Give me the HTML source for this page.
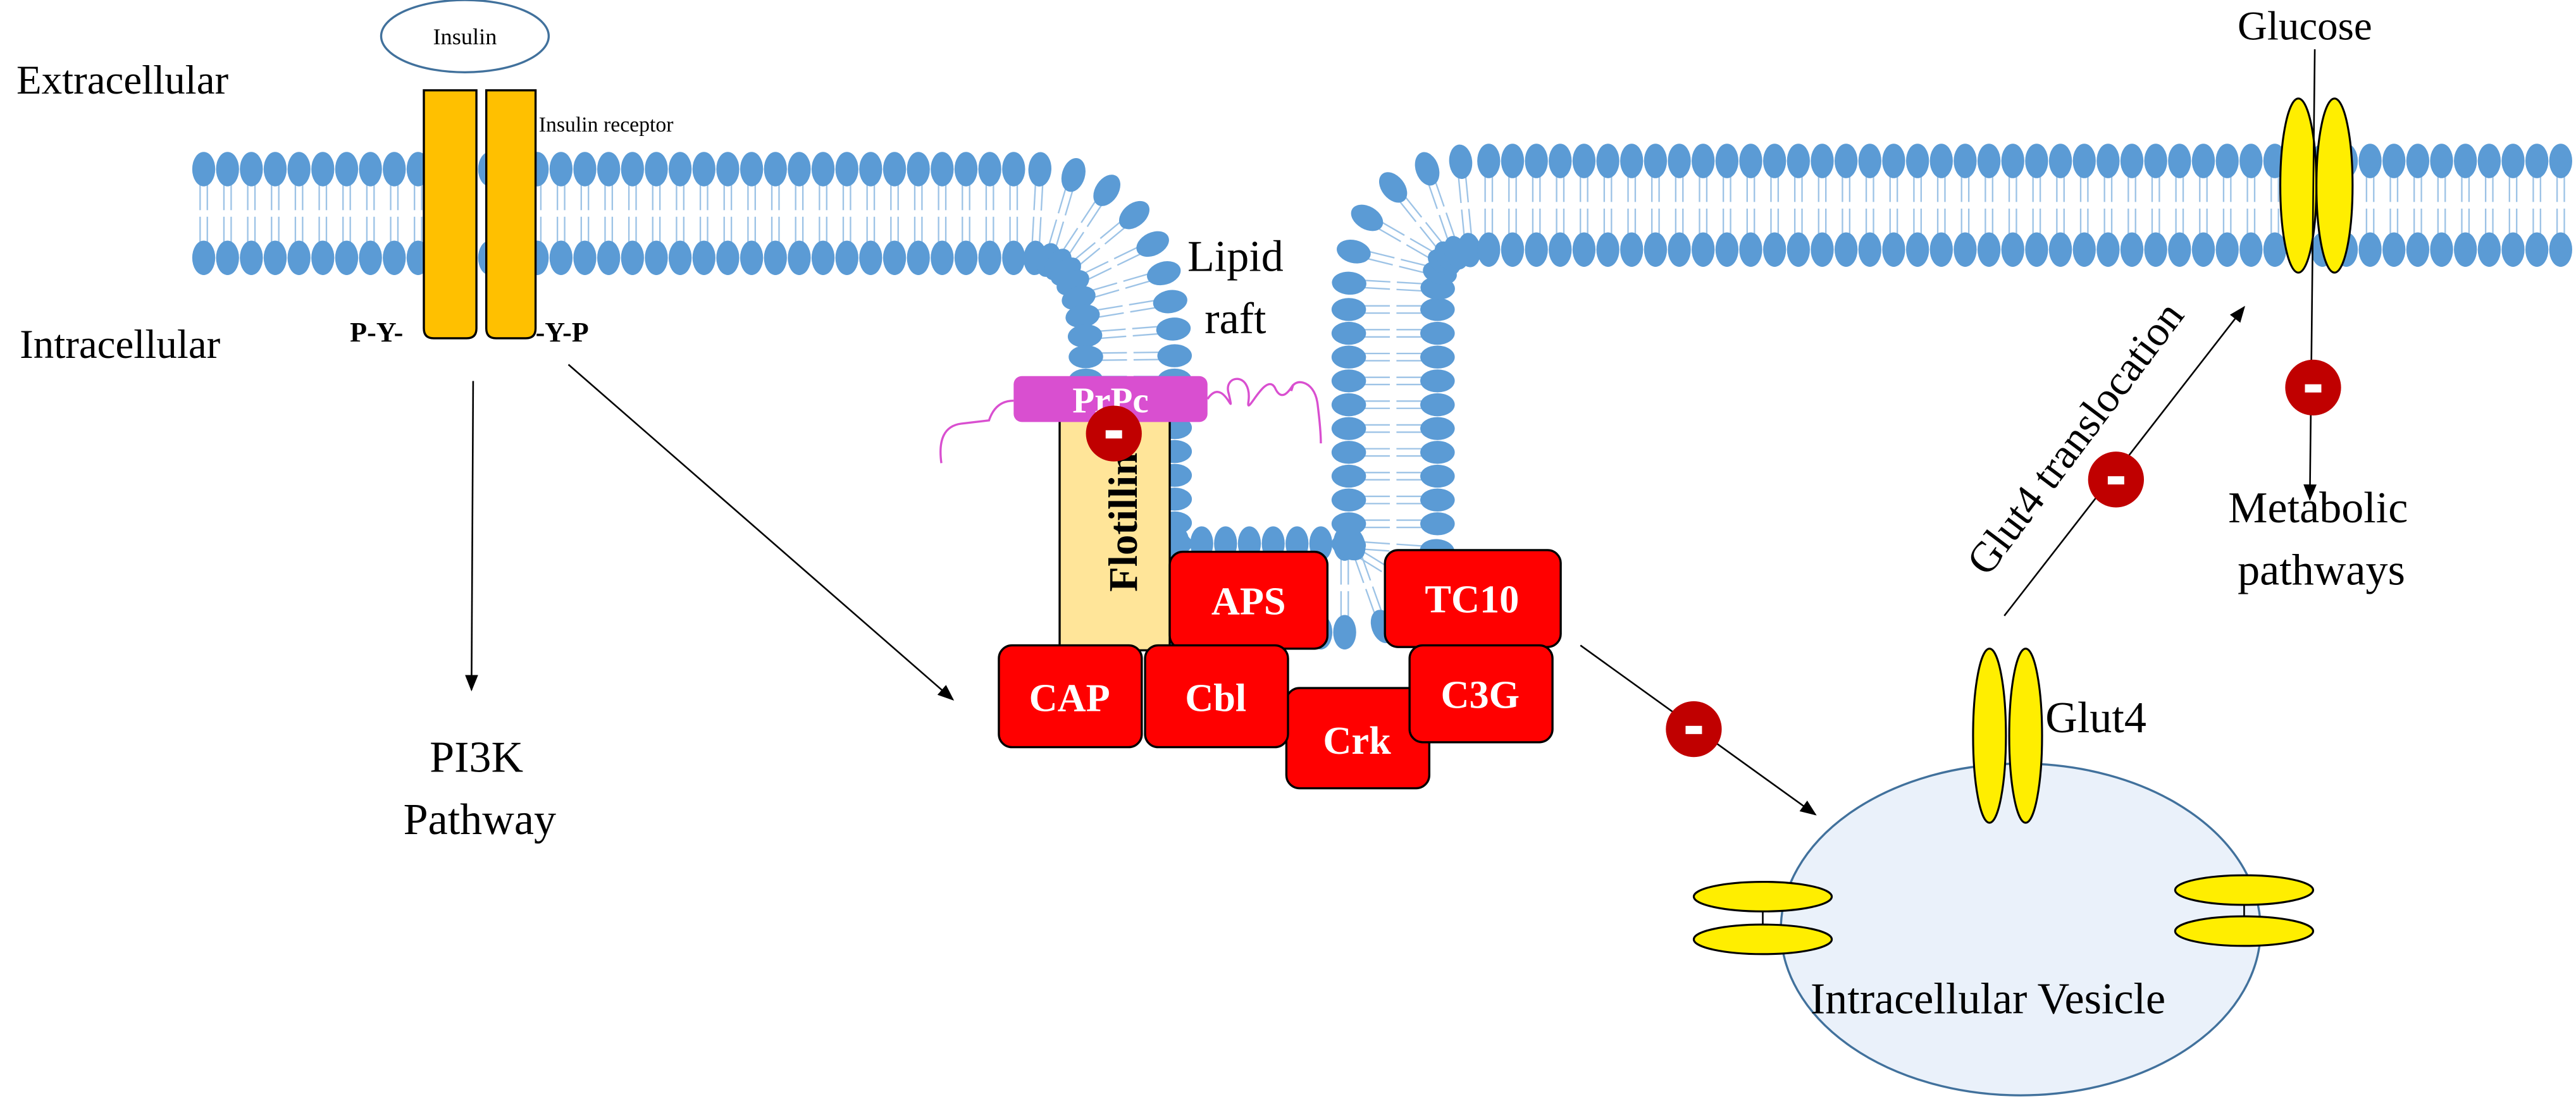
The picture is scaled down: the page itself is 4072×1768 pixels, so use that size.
<!DOCTYPE html>
<html><head><meta charset="utf-8"><style>
html,body{margin:0;padding:0;background:#fff;}
svg{display:block;}
svg text{font-family:"Liberation Serif","Times New Roman",serif;}
</style></head><body>
<svg id="s" width="4072" height="1768" viewBox="0 0 1568 680.8" xmlns="http://www.w3.org/2000/svg" font-family="Liberation Serif, serif">
<defs>
<marker id="ah" markerWidth="10" markerHeight="10" refX="9" refY="5" orient="auto" markerUnits="userSpaceOnUse"><path d="M0,1 L10,5 L0,9 z" fill="#000"/></marker>
</defs>
<path id="mp" d="M120,130 L630,130 Q688,132 688,220 L688,330 Q688,358 716,358 L820,358 Q848,358 848,330 L848,180 Q848,125 900,125 L1562,125" fill="none" stroke="none"/>
<g id="mem"></g>

<path d="M258,55 L290,55 L290,200 Q290,206 284,206 L264,206 Q258,206 258,200 Z" fill="#ffc000" stroke="#000" stroke-width="1.3"/>
<path d="M296,55 L326,55 L326,200 Q326,206 320,206 L302,206 Q296,206 296,200 Z" fill="#ffc000" stroke="#000" stroke-width="1.3"/>
<ellipse cx="283" cy="22" rx="51" ry="22" fill="#fff" stroke="#41719c" stroke-width="1.3"/>
<text x="283" y="27" font-size="14" text-anchor="middle" font-family="Liberation Serif, serif">Insulin</text>
<text x="328" y="80" font-size="13" font-family="Liberation Serif, serif">Insulin receptor</text>
<text x="10" y="57" font-size="25" font-family="Liberation Serif, serif">Extracellular</text>
<text x="12" y="218" font-size="25" font-family="Liberation Serif, serif">Intracellular</text>
<text x="213" y="208" font-size="17" font-weight="bold" font-family="Liberation Serif, serif">P-Y-</text>
<text x="326" y="208" font-size="17" font-weight="bold" font-family="Liberation Serif, serif">-Y-P</text>

<line x1="288" y1="232" x2="287" y2="420" stroke="#000" stroke-width="1" marker-end="url(#ah)"/>
<line x1="346" y1="222" x2="580" y2="426" stroke="#000" stroke-width="1" marker-end="url(#ah)"/>
<text x="290" y="470" font-size="27" text-anchor="middle" font-family="Liberation Serif, serif">PI3K</text>
<text x="292" y="508" font-size="27" text-anchor="middle" font-family="Liberation Serif, serif">Pathway</text>
<text x="752" y="165" font-size="27" text-anchor="middle" font-family="Liberation Serif, serif">Lipid</text>
<text x="752" y="203" font-size="27" text-anchor="middle" font-family="Liberation Serif, serif">raft</text>

<path d="M573,282 Q570,260 585,258 L602,256 Q606,244 617,244" fill="none" stroke="#d94fd0" stroke-width="1.3"/>
<path d="M735,243 C745,228 752,258 748,240 C744,228 762,226 760,244 C758,256 770,226 776,236 C782,250 790,226 786,238 C786,230 800,230 802,246 Q804,262 804,270" fill="none" stroke="#d94fd0" stroke-width="1.3"/>
<rect x="645" y="256" width="67" height="140" fill="#ffe599" stroke="#000" stroke-width="1.3"/>
<text transform="translate(692,318) rotate(-90)" font-size="25" font-weight="bold" text-anchor="middle" font-family="Liberation Serif, serif">Flotillin</text>
<rect x="617" y="229" width="118" height="28" rx="5" fill="#d94fd0"/>
<text x="676" y="251" font-size="22" font-weight="bold" fill="#fff" text-anchor="middle" font-family="Liberation Serif, serif">PrPc</text>

<g stroke="#000" stroke-width="1.3" fill="#ff0000">
<rect x="712" y="336" width="96" height="59" rx="8"/>
<rect x="843" y="335" width="107" height="59" rx="8"/>
<rect x="783" y="419" width="87" height="61" rx="8"/>
<rect x="608" y="393" width="87" height="62" rx="8"/>
<rect x="697" y="393" width="87" height="62" rx="8"/>
<rect x="858" y="393" width="87" height="59" rx="8"/>
</g>
<g fill="#fff" font-size="24" font-weight="bold" text-anchor="middle" font-family="Liberation Serif, serif">
<text x="760" y="374">APS</text>
<text x="896" y="373">TC10</text>
<text x="826" y="459">Crk</text>
<text x="651" y="433">CAP</text>
<text x="740" y="433">Cbl</text>
<text x="901" y="431">C3G</text>
</g>

<line x1="962" y1="393" x2="1105" y2="496" stroke="#000" stroke-width="1" marker-end="url(#ah)"/>

<ellipse cx="1230" cy="566" rx="146" ry="101" fill="#eaf1fa" stroke="#41719c" stroke-width="1.3"/>
<g fill="#ffee00" stroke="#000" stroke-width="1.2">
<ellipse cx="1211" cy="448" rx="10" ry="53"/>
<ellipse cx="1233" cy="448" rx="10" ry="53"/>
<ellipse cx="1073" cy="546" rx="42" ry="9"/>
<ellipse cx="1073" cy="572" rx="42" ry="9"/>
<ellipse cx="1366" cy="542" rx="42" ry="9"/>
<ellipse cx="1366" cy="567" rx="42" ry="9"/>
</g>
<line x1="1073" y1="555" x2="1073" y2="563" stroke="#000"/>
<line x1="1366" y1="551" x2="1366" y2="558" stroke="#000"/>
<text x="1245" y="446" font-size="27" font-family="Liberation Serif, serif">Glut4</text>
<text x="1102" y="617" font-size="27" font-family="Liberation Serif, serif">Intracellular Vesicle</text>

<line x1="1220" y1="375" x2="1366" y2="187" stroke="#000" stroke-width="1" marker-end="url(#ah)"/>
<text transform="translate(1270,272) rotate(-53)" font-size="26" text-anchor="middle" font-family="Liberation Serif, serif">Glut4 translocation</text>

<g fill="#ffee00" stroke="#000" stroke-width="1.2">
<ellipse cx="1399" cy="113" rx="11" ry="53"/>
<ellipse cx="1421" cy="113" rx="11" ry="53"/>
</g>
<line x1="1409" y1="30" x2="1406" y2="304" stroke="#000" stroke-width="1" marker-end="url(#ah)"/>
<text x="1362" y="24" font-size="25" font-family="Liberation Serif, serif">Glucose</text>
<text x="1411" y="318" font-size="27" text-anchor="middle" font-family="Liberation Serif, serif">Metabolic</text>
<text x="1413" y="356" font-size="27" text-anchor="middle" font-family="Liberation Serif, serif">pathways</text>

<g id="mins"></g>
</svg>
<script>
(function(){
var p=document.getElementById("mp"),g=document.getElementById("mem");
var L=p.getTotalLength(),step=14.5,h=27;
var tails="",heads="";
for(var s=4;s<L;s+=step){
 var a=p.getPointAtLength(s),b=p.getPointAtLength(Math.min(L,s+0.5)),c=p.getPointAtLength(Math.max(0,s-0.5));
 var dx=b.x-c.x,dy=b.y-c.y,m=Math.hypot(dx,dy)||1;dx/=m;dy/=m;
 var nx=-dy,ny=dx,ang=Math.atan2(ny,nx)*180/Math.PI;
 [1,-1].forEach(function(sg){
  var hx=a.x+nx*h*sg,hy=a.y+ny*h*sg;
  for(var k=-1;k<=1;k+=2){
   var ox=dx*2.2*k,oy=dy*2.2*k;
   tails+='<line x1="'+(hx+ox)+'" y1="'+(hy+oy)+'" x2="'+(a.x+nx*2*sg+ox)+'" y2="'+(a.y+ny*2*sg+oy)+'" stroke="#9dc3e6" stroke-width="0.9"/>';
  }
  heads+='<ellipse cx="'+hx+'" cy="'+hy+'" rx="10.5" ry="7" transform="rotate('+ang+' '+hx+' '+hy+')" fill="#5b9bd5"/>';
 });
}
g.innerHTML=tails+heads;
var mm=document.getElementById("mins"),pts=[[678,264],[1031,444],[1288,292],[1408,236]],o="";
pts.forEach(function(q){o+='<circle cx="'+q[0]+'" cy="'+q[1]+'" r="17" fill="#c00000"/><rect x="'+(q[0]-5)+'" y="'+(q[1]-2)+'" width="10" height="5" fill="#fff"/>';});
mm.innerHTML=o;
})();
</script>
</body></html>
